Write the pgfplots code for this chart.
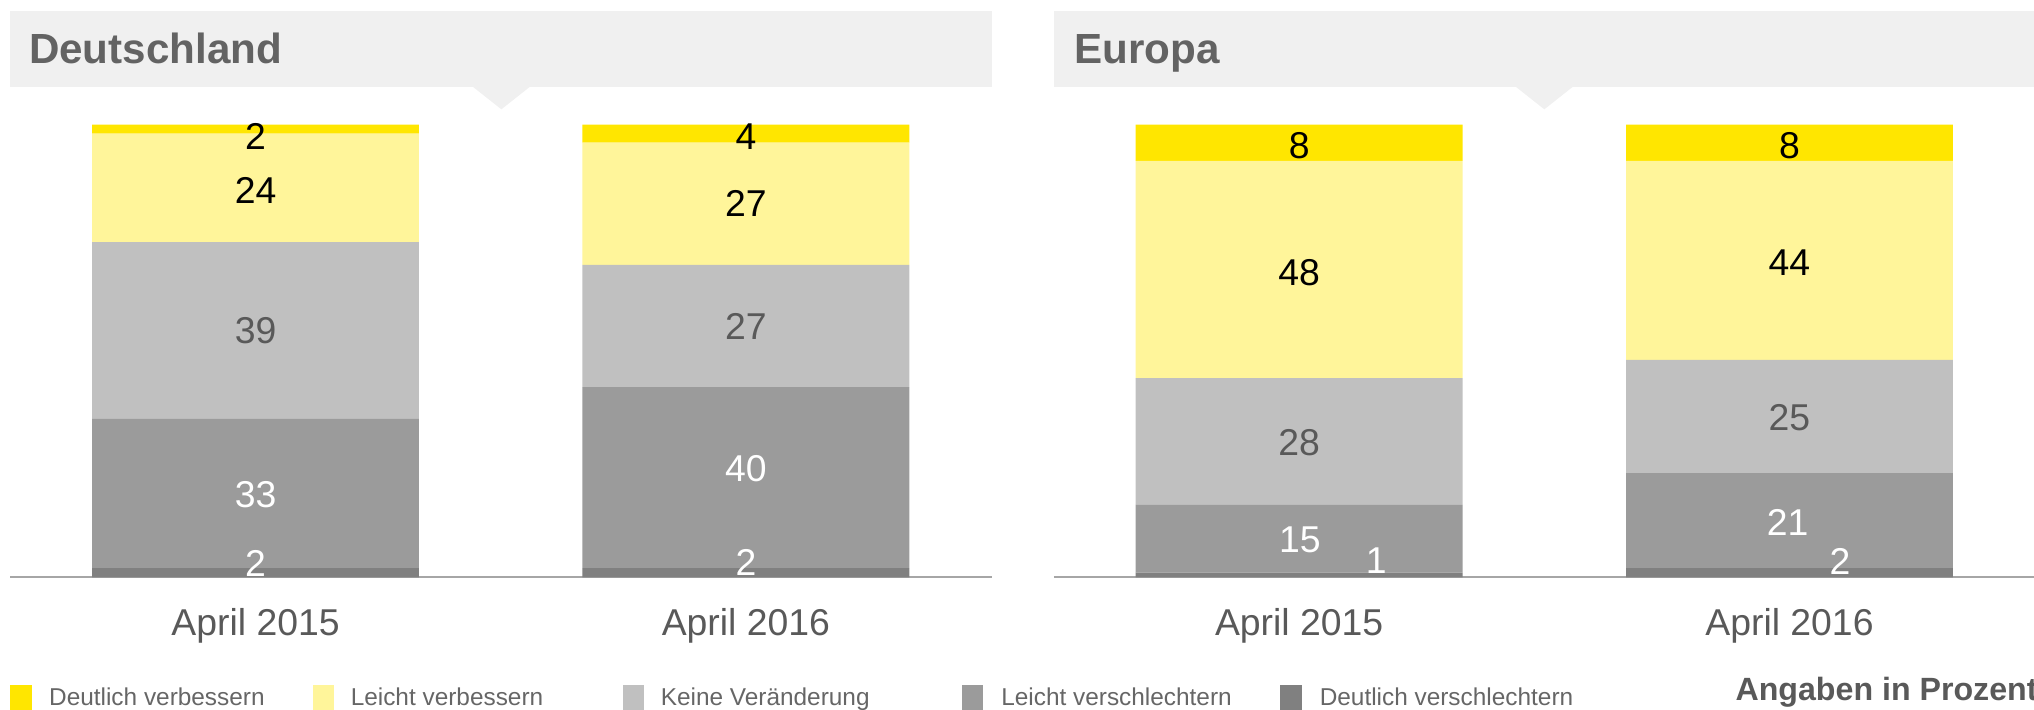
\documentclass[border=0pt]{standalone}
\usepackage{fontspec}
\setmainfont{Liberation Sans}
\usepackage{pgfplots}
\pgfplotsset{compat=1.18}
\definecolor{dverb}{HTML}{FFE600}
\definecolor{lverb}{HTML}{FFF59A}
\definecolor{keine}{HTML}{C0C0C0}
\definecolor{lvers}{HTML}{9B9B9B}
\definecolor{dvers}{HTML}{808080}
\definecolor{boxgray}{HTML}{F0F0F0}
\definecolor{axisgray}{HTML}{A6A6A6}
\definecolor{titlegray}{HTML}{636363}
\definecolor{labgray}{HTML}{595959}
\definecolor{leggray}{HTML}{666666}

\newcommand\labf{\fontsize{14.4}{16}\selectfont}

% one reference pixel (1568 wide) = 0.5pt
\pgfplotsset{panel/.style={
    anchor=south west, x=0.5pt, y=1.745pt,
    ymin=0, ymax=100, enlargelimits=false,
    ybar stacked, bar width=252,
    axis x line=bottom, axis y line=none,
    axis line style={-, draw=axisgray, line width=0.8pt},
    major tick length=0pt,
    xticklabels={April 2015,April 2016},
    xticklabel style={anchor=base, yshift=-22.5pt, font=\labf, text=labgray},
    clip=false,
}}
\tikzset{lab/.style={font=\labf, anchor=center, inner sep=0pt}}

\begin{document}
\begin{tikzpicture}
\useasboundingbox (0,0) rectangle (784pt,273.5pt);

\begin{scope}[x=0.5pt, y=-0.5pt, shift={(0pt,273.5pt)}]
% title boxes with pointer
\fill[boxgray] (8,8.5) rectangle (765,67);
\fill[boxgray] (364,66.5) -- (409,66.5) -- (386.5,84.3) -- cycle;
\fill[boxgray] (812.5,8.5) rectangle (1568,67);
\fill[boxgray] (1168,66.5) -- (1213,66.5) -- (1190.5,84.3) -- cycle;
\node[anchor=base west, inner sep=0pt, text=titlegray, font=\fontsize{16.25}{18}\selectfont\bfseries] at (22,48.8) {Deutschland};
\node[anchor=base west, inner sep=0pt, text=titlegray, font=\fontsize{16.25}{18}\selectfont\bfseries] at (828,48.8) {Europa};

% legend
\fill[dverb] (8,528) rectangle (24.5,547);
\fill[lverb] (241,528) rectangle (257.5,547);
\fill[keine] (480,528) rectangle (496.5,547);
\fill[lvers] (741.5,528) rectangle (758,547);
\fill[dvers] (987,528) rectangle (1003.5,547);
\begin{scope}[every node/.style={anchor=base west, inner sep=0pt, text=leggray, font=\fontsize{9.4}{11}\selectfont}]
\node at (37.5,543.5) {Deutlich verbessern};
\node at (270,543.5) {Leicht verbessern};
\node at (509,543.5) {Keine Veränderung};
\node at (771.5,543.5) {Leicht verschlechtern};
\node at (1017,543.5) {Deutlich verschlechtern};
\end{scope}
\node[anchor=base west, inner sep=0pt, text=labgray, font=\fontsize{12.4}{14}\selectfont\bfseries] at (1337.5,540) {Angaben in Prozent};
\end{scope}

% Deutschland
\begin{axis}[panel, at={(4pt,51pt)}, xmin=8, xmax=765, xtick={197,575}]
\addplot[fill=dvers, draw=none] coordinates {(197,2) (575,2)};
\addplot[fill=lvers, draw=none] coordinates {(197,33) (575,40)};
\addplot[fill=keine, draw=none] coordinates {(197,39) (575,27)};
\addplot[fill=lverb, draw=none] coordinates {(197,24) (575,27)};
\addplot[fill=dverb, draw=none] coordinates {(197,2) (575,4)};
% label anchors (drawn after the axis so they sit on top of the bars)
\coordinate (d1a) at (axis cs:197,97.3);
\coordinate (d1b) at (axis cs:197,85.5);
\coordinate (d1c) at (axis cs:197,54.4);
\coordinate (d1d) at (axis cs:197,18.3);
\coordinate (d1e) at (axis cs:197,3.0);
\coordinate (d2a) at (axis cs:575,97.4);
\coordinate (d2b) at (axis cs:575,82.5);
\coordinate (d2c) at (axis cs:575,55.3);
\coordinate (d2d) at (axis cs:575,24.1);
\coordinate (d2e) at (axis cs:575,3.2);
\end{axis}

% Europa
\begin{axis}[panel, at={(406.25pt,51pt)}, xmin=812.5, xmax=1569.5, xtick={1001.5,1379.5}]
\addplot[fill=dvers, draw=none] coordinates {(1001.5,1) (1379.5,2)};
\addplot[fill=lvers, draw=none] coordinates {(1001.5,15) (1379.5,21)};
\addplot[fill=keine, draw=none] coordinates {(1001.5,28) (1379.5,25)};
\addplot[fill=lverb, draw=none] coordinates {(1001.5,48) (1379.5,44)};
\addplot[fill=dverb, draw=none] coordinates {(1001.5,8) (1379.5,8)};
\coordinate (e1a) at (axis cs:1001.5,95.4);
\coordinate (e1b) at (axis cs:1001.5,67.3);
\coordinate (e1c) at (axis cs:1001.5,29.8);
\coordinate (e1d) at (axis cs:1002,8.3);
\coordinate (e1e) at (axis cs:1061,3.7);
\coordinate (e2a) at (axis cs:1379.5,95.4);
\coordinate (e2b) at (axis cs:1379.5,69.6);
\coordinate (e2c) at (axis cs:1379.5,35.2);
\coordinate (e2d) at (axis cs:1378,12.0);
\coordinate (e2e) at (axis cs:1418.5,3.4);
\end{axis}

% value labels
\node[lab, text=black] at (d1a) {2};
\node[lab, text=black] at (d1b) {24};
\node[lab, text=labgray] at (d1c) {39};
\node[lab, text=white] at (d1d) {33};
\node[lab, text=white] at (d1e) {2};
\node[lab, text=black] at (d2a) {4};
\node[lab, text=black] at (d2b) {27};
\node[lab, text=labgray] at (d2c) {27};
\node[lab, text=white] at (d2d) {40};
\node[lab, text=white] at (d2e) {2};
\node[lab, text=black] at (e1a) {8};
\node[lab, text=black] at (e1b) {48};
\node[lab, text=labgray] at (e1c) {28};
\node[lab, text=white] at (e1d) {15};
\node[lab, text=white] at (e1e) {1};
\node[lab, text=black] at (e2a) {8};
\node[lab, text=black] at (e2b) {44};
\node[lab, text=labgray] at (e2c) {25};
\node[lab, text=white] at (e2d) {21};
\node[lab, text=white] at (e2e) {2};
\end{tikzpicture}
\end{document}
